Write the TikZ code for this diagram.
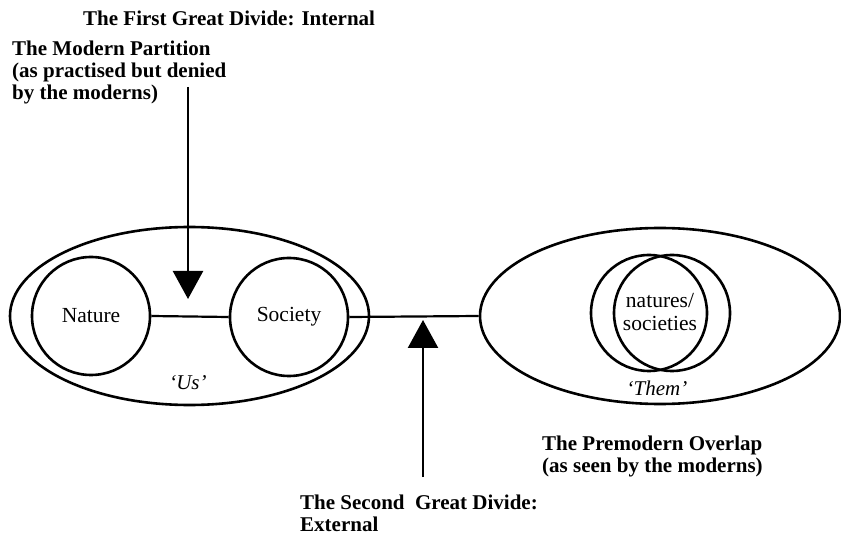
\documentclass[tikz,border=0pt]{standalone}
\usepackage{fontspec}
\setmainfont{Liberation Serif}
\usetikzlibrary{shapes.geometric,arrows.meta}
\begin{document}
\begin{tikzpicture}[x=1pt,y=-1pt,
  shape line/.style={line width=2.6pt},
  bubble/.style={shape line,draw,circle,inner sep=0pt,minimum size=118pt,font=\fontsize{21.5}{22}\selectfont},
  oval/.style={shape line,draw,ellipse,inner sep=0pt},
  link/.style={line width=2.2pt},
  bigarrow/.style={line width=2.4pt,-{Triangle[length=28pt,width=30pt]}},
  caption/.style={anchor=west,align=left,inner sep=0pt,font=\bfseries\fontsize{21}{22}\selectfont},
  label/.style={inner sep=0pt,font=\itshape\fontsize{21}{22}\selectfont}]
\useasboundingbox (0,0) rectangle (841,537);
% left group
\node[oval,minimum width=359pt,minimum height=178pt] (us) at (189.5,316) {};
\node[bubble] (nature) at (91,316) {Nature};
\node[bubble] (society) at (289,317) {Society};
\node[label] (uslab) at (188,383) {`Us'};
% right group
\node[oval,minimum width=360pt,minimum height=176pt] (them) at (660,316) {};
\node[bubble,minimum size=116pt] (natA) at (649,313) {};
\node[bubble,minimum size=116pt] (natB) at (672,313) {};
\node[align=center,inner sep=0pt,font=\fontsize{21.5}{23}\selectfont] (ns) at (660,312) {natures/\\societies};
\node[label] (themlab) at (657,388) {`Them'};
% connectors
\draw[link] (nature.east) -- (society.west);
\draw[link] (society.east) -- (them.west);
% arrows
\coordinate (dtop) at (188,87);
\coordinate (dtip) at (188,299);
\draw[bigarrow] (dtop) -- (dtip);
\coordinate (ubot) at (423,477);
\coordinate (utip) at (423,320);
\draw[bigarrow] (ubot) -- (utip);
% captions
\node[caption] (first) at (83,18) {The First Great Divide: Internal};
\node[caption] (modern) at (12,72) {The Modern Partition\\(as practised but denied\\by the moderns)};
\node[caption] (premod) at (542,456) {The Premodern Overlap\\(as seen by the moderns)};
\node[caption] (second) at (300,513) {The Second\ \ Great Divide:\\External};
\end{tikzpicture}
\end{document}
